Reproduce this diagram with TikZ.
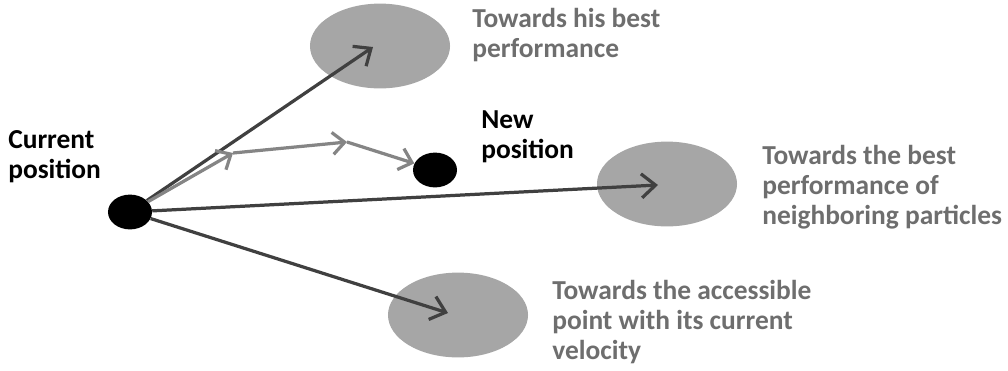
\documentclass[tikz,border=0pt]{standalone}
\usepackage{fontspec}
\setmainfont{Carlito}
\usetikzlibrary{shapes, arrows.meta, positioning, calc}
\definecolor{regiongray}{HTML}{A6A6A6}
\definecolor{pullgray}{HTML}{404040}
\definecolor{stepgray}{HTML}{858585}
\definecolor{textgray}{HTML}{6E6E6E}

\begin{document}
\begin{tikzpicture}[x=0.025cm, y=-0.025cm,
  region/.style={ellipse, fill=regiongray, minimum width=3.5cm, minimum height=2.12cm},
  particle/.style={ellipse, fill=black, minimum width=1.1cm, minimum height=0.87cm, inner sep=0pt},
  pull/.style={draw=pullgray, line width=2.3pt, -{Straight Barb[length=3.5mm, width=6mm]}},
  move/.style={draw=stepgray, line width=2.3pt, -{Straight Barb[length=3mm, width=5.5mm]}},
  goaltext/.style={anchor=north west, align=left, text=textgray, inner sep=0pt, font=\fontsize{19.5}{21.5}\selectfont\bfseries},
  pointtext/.style={anchor=north west, align=left, inner sep=0pt, font=\fontsize{19.5}{21.5}\selectfont\bfseries}
]
  \useasboundingbox (0,0) rectangle (1008,370);

  % Target regions
  \node[region] (best) at (380, 46) {};
  \node[region] (gbest) at (667, 184) {};
  \node[region] (inertia) at (458, 315) {};

  % Particles
  \node[particle] (cur) at (130, 212) {};
  \node[particle] (new) at (435, 170) {};

  % Arrow ends
  \coordinate (bestend) at (373, 47);
  \coordinate (gbestend) at (658, 185);
  \coordinate (inertiaend) at (448, 313);
  \coordinate (p1) at (233, 153);
  \coordinate (p2) at (347, 142);

  % Pulls
  \draw[pull] (cur) -- (bestend);
  \draw[pull] (cur) -- (gbestend);
  \draw[pull] (cur) -- (inertiaend);

  % Resulting move
  \draw[move] (cur) -- (p1);
  \draw[move] (p1) -- (p2);
  \draw[move] (p2) -- (new);

  % Texts
  \node[pointtext] (curtext) at (8, 130) {Current\\position};
  \node[pointtext] (newtext) at (481, 110) {New\\position};
  \node[goaltext] (besttext) at (472, 8) {Towards his best\\performance};
  \node[goaltext] (gbesttext) at (762, 145) {Towards the best\\performance of\\neighboring particles};
  \node[goaltext] (inertiatext) at (552, 280) {Towards the accessible\\point with its current\\velocity};
\end{tikzpicture}
\end{document}
